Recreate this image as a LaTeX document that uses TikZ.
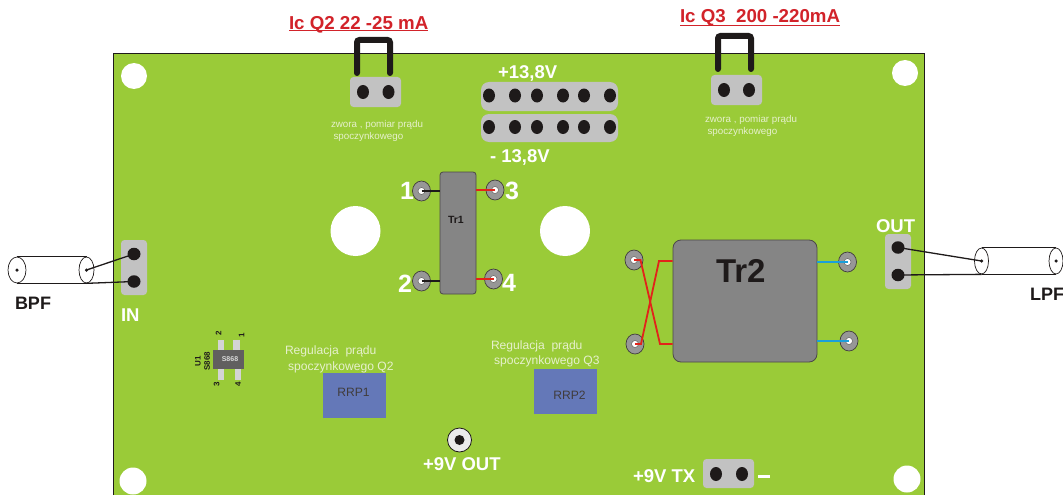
\documentclass[tikz,border=0pt]{standalone}
\usepackage{fontspec}
\setmainfont{Liberation Sans}
\usetikzlibrary{shapes.geometric}
\definecolor{board}{HTML}{9ACB38}
\definecolor{padgrey}{HTML}{C2C2C2}
\definecolor{trgrey}{HTML}{858585}
\definecolor{ink}{HTML}{1E1A1A}
\definecolor{redw}{HTML}{E2231A}
\definecolor{bluew}{HTML}{1A9FDB}
\definecolor{rrp}{HTML}{6478B8}
\definecolor{pale}{HTML}{E6F0CC}
\definecolor{titlered}{HTML}{D2232A}
\tikzset{
  x=1pt,y=-1pt,
  txt/.style={inner sep=0pt,outer sep=0pt,anchor=base west,align=left},
  whitebold/.style={txt,text=white,font=\bfseries\fontsize{#1}{#1}\selectfont},
  darkbold/.style={txt,text=ink,font=\bfseries\fontsize{#1}{#1}\selectfont},
  titletxt/.style={txt,text=titlered,font=\bfseries\fontsize{18.7}{18.7}\selectfont},
  small/.style={txt,text=pale,font=\fontsize{9.8}{9.8}\selectfont},
  reg/.style={txt,text=pale,font=\fontsize{12.1}{12.1}\selectfont},
  rrplabel/.style={txt,anchor=center,text=ink!85,font=\fontsize{12.1}{12.1}\selectfont},
  padbox/.style={fill=padgrey,rounded corners=3.5pt,draw=none,minimum width=#1,inner sep=0pt},
  hole/.style={ellipse,fill=ink,draw=none,minimum width=12pt,minimum height=14pt,inner sep=0pt,outer sep=0pt},
  vhole/.style={ellipse,fill=ink,draw=none,minimum width=13pt,minimum height=12.5pt,inner sep=0pt,outer sep=0pt},
  mount/.style={circle,fill=white,draw=none,inner sep=0pt,minimum size=#1},
  terminal/.style={ellipse,fill=trgrey!85,draw=ink!85,line width=.7pt,minimum width=18pt,minimum height=20pt,inner sep=0pt},
  termeye/.style={circle,fill=white,draw=ink!70,line width=.5pt,minimum size=7pt,inner sep=0pt},
  transformer/.style={fill=trgrey,draw=ink!80,line width=.8pt,inner sep=0pt},
  jumper/.style={draw=ink,line width=6pt,line cap=round,rounded corners=2.5pt},
  wireb/.style={draw=ink,line width=1.3pt},
  wirer/.style={draw=redw,line width=1.8pt},
  wirec/.style={draw=bluew,line width=1.8pt},
  coaxend/.style={ellipse,draw=ink,line width=.7pt,fill=white,minimum width=#1,minimum height=26pt,inner sep=0pt},
  coaxdot/.style={circle,fill=ink,minimum size=3.5pt,inner sep=0pt},
  pin/.style={fill=padgrey!70!white,draw=none,inner sep=0pt},
  tinyb/.style={txt,anchor=center,rotate=90,text=ink,font=\bfseries\fontsize{8}{8}\selectfont},
}
\begin{document}
\begin{tikzpicture}
\useasboundingbox (0,0) rectangle (1063,495);
\fill[white] (0,0) rectangle (1063,495);
% board
\fill[board] (113,53) rectangle (924,495);
\draw[ink,line width=.8pt] (113,495) -- (113,53) -- (924,53) -- (924,495);
% mounting holes
\node[mount=26pt] (m1) at (134,76) {};
\node[mount=26pt] (m2) at (905,73) {};
\node[mount=27pt] (m3) at (133,481) {};
\node[mount=27pt] (m4) at (907,479) {};
\node[mount=50pt] (m5) at (355.5,231) {};
\node[mount=50pt] (m6) at (565,231) {};
% titles
\node[titletxt] (t2) at (289,29.5) {Ic Q2 22 -25 mA};
\draw[titlered,line width=1pt] (289,31) -- (428,31);
\node[titletxt] (t3) at (680,22.5) {Ic Q3~~200 -220mA};
\draw[titlered,line width=1pt] (680,25.5) -- (840,25.5);
% jumpers
\node[padbox=51pt,minimum height=30pt] (jp2) at (375.5,92) {};
\node[hole] (jp2a) at (363,92) {};
\node[hole] (jp2b) at (388.5,92) {};
\draw[jumper] (357,73) -- (357,40) -- (390,40) -- (390,73);
\node[padbox=51pt,minimum height=30pt] (jp3) at (736.5,90) {};
\node[hole] (jp3a) at (724,90) {};
\node[hole] (jp3b) at (749,90) {};
\draw[jumper] (718,69) -- (718,36) -- (751,36) -- (751,69);
\node[small] (z1a) at (331,127) {zwora , pomiar prądu};
\node[small] (z1b) at (333.5,139) {spoczynkowego};
\node[small] (z2a) at (705,122) {zwora , pomiar prądu};
\node[small] (z2b) at (707.5,134) {spoczynkowego};
% 13.8 V
\node[padbox=137pt,minimum height=29pt,rounded corners=8pt] (h1) at (549.5,96.5) {};
\node[padbox=137pt,minimum height=28pt,rounded corners=8pt] (h2) at (549.5,128) {};
\foreach \n/\x in {a/489,b/515,c/537,d/563,e/584,f/610}{
  \node[hole] (h1\n) at (\x,95.5) {};
  \node[hole] (h2\n) at (\x,127) {};
}
\node[whitebold=18.5] (vp) at (498,78) {+13,8V};
\node[whitebold=18.5] (vm) at (490,162) {- 13,8V};
% Tr1
\node[terminal] (p1) at (421.5,191) {};
\node[terminal] (p2) at (421.5,281) {};
\node[terminal] (p3) at (495,190) {};
\node[terminal] (p4) at (493.5,279) {};
\node[termeye] at (p1) {};
\node[termeye] at (p2) {};
\node[termeye] at (p3) {};
\node[termeye] at (p4) {};
\node[transformer,rounded corners=3pt,minimum width=36pt,minimum height=122pt] (tr1) at (458,233) {};
\path[wireb] (p1.center) -- (tr1.west |- p1);
\path[wireb] (p2.center) -- (tr1.west |- p2);
\path[wirer] (p3.center) -- (tr1.east |- p3);
\path[wirer] (p4.center) -- (tr1.east |- p4);
\node[darkbold=10.5] (tr1l) at (448,223) {Tr1};
\node[whitebold=25] (n1) at (400,199) {1};
\node[whitebold=25] (n2) at (398,292.5) {2};
\node[whitebold=25] (n3) at (505,199) {3};
\node[whitebold=25] (n4) at (502,291.5) {4};
% Tr2
\node[terminal] (q1) at (634,260) {};
\node[terminal] (q2) at (635,344) {};
\node[terminal] (q3) at (847.5,262) {};
\node[terminal] (q4) at (849,341) {};
\node[termeye] at (q1) {};
\node[termeye] at (q2) {};
\node[termeye] at (q3) {};
\node[termeye] at (q4) {};
\node[transformer,rounded corners=8pt,minimum width=144pt,minimum height=122pt] (tr2) at (745,301) {};
\coordinate (k1) at (640.5,260);
\coordinate (k2) at (660,344);
\coordinate (k3) at (641,344);
\coordinate (k4) at (659,261);
\path[wirer] (q1.center) -- (k1) -- (k2) -- (tr2.west |- k2);
\path[wirer] (q2.center) -- (k3) -- (k4) -- (tr2.west |- k4);
\path[wirec] (q3.center) -- (tr2.east |- q3);
\path[wirec] (q4.center) -- (tr2.east |- q4);
\node[darkbold=33] (tr2l) at (716,282) {Tr2};
% IN
\node[padbox=26pt,minimum height=55pt] (inp) at (134,267.5) {};
\node[vhole] (in1) at (134,254) {};
\node[vhole] (in2) at (134,281.5) {};
\node[whitebold=18.5] (inl) at (121,321) {IN};
\node[coaxend=18pt] (c1) at (17,270) {};
\node[coaxend=15pt] (c2) at (86.5,270) {};
\draw[ink,line width=.7pt] (c1.north) -- (c2.north);
\draw[ink,line width=.7pt] (c1.south) -- (c2.south);
\node[coaxdot] (c1d) at (c1) {};
\node[coaxdot] (c2d) at (c2) {};
\path[wireb] (c2d.center) -- (in1.center);
\path[wireb] (c2.south) -- (in2.center);
\node[darkbold=18] (bpf) at (15,309) {BPF};
% OUT
\node[padbox=26pt,minimum height=55pt] (outp) at (898,261.5) {};
\node[vhole] (o1) at (898,247.5) {};
\node[vhole] (o2) at (898,275) {};
\node[whitebold=18.5] (outl) at (876,232) {OUT};
\node[coaxend=14pt] (c3) at (1056,261) {};
\node[coaxend=14pt] (c4) at (981.5,261) {};
\draw[ink,line width=.7pt] (c4.north) -- (c3.north);
\draw[ink,line width=.7pt] (c4.south) -- (c3.south);
\node[coaxdot] (c3d) at (c3) {};
\node[coaxdot] (c4d) at (c4) {};
\path[wireb] (o1.center) -- (c4d.center);
\path[wireb] (o2.center) -- (c4.south);
\node[darkbold=18] (lpf) at (1030,300) {LPF};
% SOT
\node[pin,minimum width=5.5pt,minimum height=11pt] (s2) at (221,345) {};
\node[pin,minimum width=7pt,minimum height=11pt] (s1) at (236.5,345) {};
\node[pin,minimum width=5.5pt,minimum height=11pt] (s3) at (221,374.5) {};
\node[pin,minimum width=5.5pt,minimum height=11pt] (s4) at (238,374.5) {};
\node[fill=ink!70,draw=none,minimum width=31pt,minimum height=19pt,inner sep=0pt] (sot) at (228.5,359.5) {};
\node[txt,anchor=center,text=white!85!black,font=\bfseries\fontsize{7}{7}\selectfont] (sotl) at (230,359) {S868};
\node[tinyb] (l2) at (218.5,333.5) {2};
\node[tinyb] (l1) at (241.5,335) {1};
\node[tinyb] (l3) at (216.5,384) {3};
\node[tinyb] (l4) at (238,384) {4};
\node[tinyb] (lu) at (198,361) {U1};
\node[tinyb] (ls) at (207,361) {S868};
% regulators
\node[reg] (r1a) at (285,354) {Regulacja~~prądu};
\node[reg] (r1b) at (288,370) {spoczynkowego Q2};
\node[reg] (r2a) at (491,349) {Regulacja~~prądu};
\node[reg] (r2b) at (494,364.5) {spoczynkowego Q3};
\node[fill=rrp,draw=none,minimum width=63pt,minimum height=45pt,inner sep=0pt] (rrp1) at (354.5,395.5) {};
\node[fill=rrp,draw=none,minimum width=63pt,minimum height=45pt,inner sep=0pt] (rrp2) at (565.5,391.5) {};
\node[rrplabel] at (353.5,392.5) {RRP1};
\node[rrplabel] at (569.5,395.5) {RRP2};
% 9V
\node[circle,fill=white!92!black,draw=ink,line width=.8pt,minimum size=24pt,inner sep=0pt] (j9) at (459.5,440) {};
\node[circle,fill=ink,minimum size=10pt,inner sep=0pt] (j9i) at (459.5,440) {};
\node[whitebold=18.5] (v9) at (423,470) {+9V OUT};
\node[whitebold=18.5] (v9t) at (633,482) {+9V TX};
\node[padbox=51pt,minimum height=29pt] (txp) at (728.5,473.5) {};
\node[hole] (tx1) at (716,474) {};
\node[hole] (tx2) at (742,474) {};
\fill[white] (758,474.5) rectangle (770,477.5);
\end{tikzpicture}
\end{document}
